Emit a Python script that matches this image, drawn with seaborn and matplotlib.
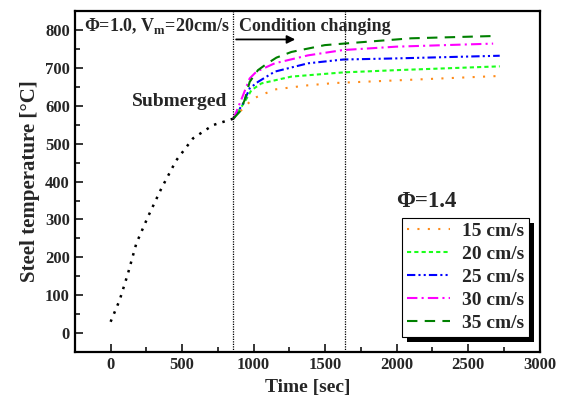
import seaborn as sns
import matplotlib.pyplot as plt
import pandas as pd
from matplotlib.patches import Rectangle

# heating phase before submerging (phi=1.0, Vm=20cm/s)
t_heat = [0, 63, 121, 180, 261, 355, 459, 576, 716, 858]
T_heat = [30, 87, 157, 237, 307, 382, 456, 514, 549, 566]

# after condition change (phi=1.4)
t_15 = [858, 926, 996, 1147, 1380, 1566, 1999, 2741]
T_15 = [566, 593, 619, 643, 654, 660, 667, 679]
t_20 = [858, 937, 984, 1054, 1264, 1625, 1999, 2720]
T_20 = [566, 610, 641, 659, 677, 688, 694, 704]
t_25 = [858, 926, 972, 1030, 1147, 1380, 1625, 1999, 2720]
T_25 = [566, 606, 646, 663, 690, 712, 722, 725, 732]
t_30 = [858, 879, 926, 972, 1019, 1147, 1380, 1625, 2000, 2674]
T_30 = [566, 584, 628, 672, 690, 712, 733, 747, 756, 764]
t_35 = [858, 902, 937, 972, 1030, 1089, 1159, 1264, 1497, 1695, 2100, 2674]
T_35 = [566, 584, 615, 663, 694, 710, 727, 742, 760, 766, 778, 784]

labels = ["15 cm/s", "20 cm/s", "25 cm/s", "30 cm/s", "35 cm/s"]
colors = ["#ff8c1a", "#1aff1a", "#0000ff", "#ff00ff", "#008000"]
dashes = [(1, 4), (2, 1.5), (4, 1.5, 1, 1.5, 1, 1.5), (5, 2, 1, 2), (5, 3.5)]
series = [(t_15, T_15), (t_20, T_20), (t_25, T_25), (t_30, T_30), (t_35, T_35)]

sns.set_style("white")
plt.rcParams["font.family"] = ["Liberation Serif", "DejaVu Serif"]
plt.rcParams["font.weight"] = "bold"
plt.rcParams["mathtext.fontset"] = "custom"
plt.rcParams["mathtext.rm"] = "Liberation Serif"

fig = plt.figure(figsize=(5.67, 4.08), dpi=100)
ax = fig.add_axes([0.132, 0.137, 0.820, 0.836])

heat = pd.DataFrame({"time": t_heat, "temp": T_heat})
sns.lineplot(data=heat, x="time", y="temp", ax=ax, color="black",
             linewidth=1.8, dashes=False, linestyle=(0, (1, 2.5)))

for (tt, TT), lab, c, d in zip(series, labels, colors, dashes):
    df = pd.DataFrame({"time": tt, "temp": TT})
    sns.lineplot(data=df, x="time", y="temp", ax=ax, color=c, label=lab,
                 linewidth=1.5, linestyle=(0, d))

ax.axvline(858, color="black", linewidth=0.9, linestyle=(0, (1, 1)))
ax.axvline(1636, color="black", linewidth=0.9, linestyle=(0, (1, 1)))

ax.set_xlim(-250, 3000)
ax.set_ylim(-50, 850)
ax.set_xticks(range(0, 3001, 500))
ax.set_xticks(range(250, 3000, 500), minor=True)
ax.set_yticks(range(0, 801, 100))
ax.set_yticks(range(50, 800, 100), minor=True)
ax.tick_params(which="major", direction="in", length=6, width=1.3,
               labelsize=12, bottom=True, left=True, top=False, right=False)
ax.tick_params(which="minor", direction="in", length=3.5, width=1.3,
               bottom=True, left=True)
for lbl in ax.get_xticklabels() + ax.get_yticklabels():
    lbl.set_fontweight("bold")
for s in ax.spines.values():
    s.set_linewidth(1.6)
    s.set_color("black")

ax.set_xlabel("Time [sec]", fontsize=14, fontweight="bold")
ax.set_ylabel("Steel temperature [°C]", fontsize=15, fontweight="bold")

ax.text(-185, 810, r"Φ=1.0, V$_\mathregular{m}$=20cm/s", fontsize=13,
        fontweight="bold", va="center", ha="left")
ax.text(895, 810, "Condition changing", fontsize=13, fontweight="bold",
        va="center", ha="left")
ax.annotate("", xy=(1310, 775), xytext=(858, 775),
            arrowprops=dict(arrowstyle="-|>", color="black", lw=1.3,
                            mutation_scale=12))
ax.text(818, 612, "Submerged", fontsize=14, fontweight="bold",
        va="center", ha="right")

leg = ax.legend(loc="lower right", bbox_to_anchor=(0.976, 0.044),
                fontsize=14, frameon=True, fancybox=False,
                labelspacing=0.28, handlelength=2.2, borderpad=0.25,
                handletextpad=0.6, borderaxespad=0)
leg.get_frame().set_edgecolor("black")
leg.get_frame().set_linewidth(0.8)
leg.get_frame().set_alpha(1)
for t in leg.get_texts():
    t.set_fontweight("bold")

ax.text(0.692, 0.425, "Φ=1.4", transform=ax.transAxes, fontsize=16.5,
        fontweight="bold", va="baseline", ha="left")

fig.canvas.draw()
bb = leg.get_window_extent()
ax.add_patch(Rectangle((bb.x0 + 5, bb.y0 - 5), bb.width, bb.height,
                       transform=None, facecolor="black", edgecolor="none",
                       zorder=4.9, clip_on=False))

fig.savefig("out.png", dpi=100)
